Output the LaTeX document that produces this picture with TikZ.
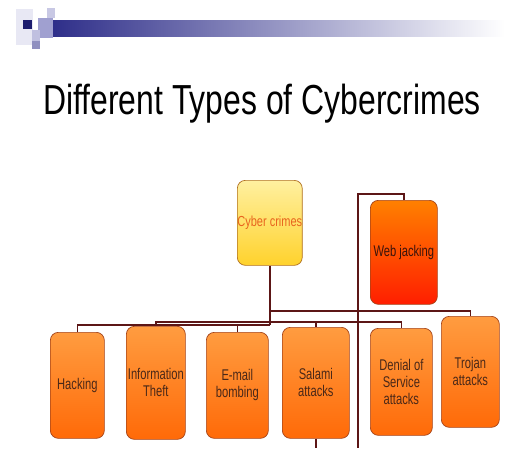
\documentclass[tikz,border=0pt]{standalone}
\usepackage{fontspec}
\setmainfont{Liberation Sans}
\newfontfamily\titlefont{Liberation Sans}[FakeStretch=0.76]
\newfontfamily\boxfont{Liberation Sans}[FakeStretch=0.72]
\newfontfamily\crimefont{Liberation Sans}[FakeStretch=0.76]
\usetikzlibrary{calc}

\definecolor{navy}{HTML}{1C1C6E}
\definecolor{barblue}{HTML}{2C2C88}
\definecolor{linkcol}{HTML}{5C1616}
\definecolor{boxline}{HTML}{A4441A}
\definecolor{boxtext}{HTML}{4A2818}
\definecolor{orangetop}{HTML}{FF9C40}
\definecolor{orangebot}{HTML}{FF6A08}
\definecolor{yellowtop}{HTML}{FFF0A0}
\definecolor{yellowbot}{HTML}{FFD22C}
\definecolor{redtop}{HTML}{FF8000}
\definecolor{redbot}{HTML}{FF1E00}
\definecolor{crimetext}{HTML}{E8641E}

\tikzset{
  box/.style={draw=boxline, line width=0.7pt, rounded corners=8pt,
    anchor=north west, inner sep=1pt, align=center,
    font=\boxfont\fontsize{15.5}{17}\selectfont, text=boxtext,
    top color=orangetop, bottom color=orangebot},
  link/.style={draw=linkcol, line width=1.4pt}
}

\begin{document}
\begin{tikzpicture}[x=1pt,y=-1pt]
\useasboundingbox[fill=white] (0,0) rectangle (505,448);

% header bar and tiles
\shade[left color=barblue, right color=white, shading angle=90] (47,20) rectangle (505,36);
\fill[color={rgb,255:red,232;green,232;blue,244}] (16,9) rectangle (33,45);
\fill[navy] (23,20) rectangle (32,29);
\fill[color={rgb,255:red,200;green,200;blue,228}] (47,8) rectangle (55,18);
\fill[color={rgb,255:red,160;green,160;blue,208}] (38,18) rectangle (53,38);
\fill[color={rgb,255:red,192;green,192;blue,224}] (32,30) rectangle (40,41);
\fill[color={rgb,255:red,144;green,144;blue,192}] (32,41) rectangle (40,49);

% title
\node[anchor=base, font=\titlefont\fontsize{42}{42}\selectfont] (title) at (262,114) {Different Types of Cybercrimes};

% top-level boxes
\node[box, minimum width=62pt, minimum height=85pt, top color=yellowtop, bottom color=yellowbot,
      draw={rgb,255:red,176;green,112;blue,32}, text=crimetext, inner sep=0pt,
      font=\crimefont\fontsize{14.5}{16}\selectfont] (cyber) at (237,180) {Cyber crimes};
\node[box, minimum width=67pt, minimum height=104pt, top color=redtop, bottom color=redbot,
      text={rgb,255:red,58;green,20;blue,12}] (webjack) at (370,200) {Web jacking};

% second-level boxes
\node[box, minimum width=54pt, minimum height=106pt] (hack)   at (50,332)  {Hacking};
\node[box, minimum width=59pt, minimum height=113pt] (info)   at (126,326) {Information\\Theft};
\node[box, minimum width=62pt, minimum height=106pt] (email)  at (206,332) {E-mail\\bombing};
\node[box, minimum width=67pt, minimum height=111pt] (salami) at (282,327) {Salami\\attacks};
\node[box, minimum width=62pt, minimum height=107pt] (denial) at (370,328) {Denial of\\Service\\attacks};
\node[box, minimum width=58pt, minimum height=111pt] (trojan) at (441,316) {Trojan\\attacks};

% bus levels
\coordinate (busA) at (0,311);
\coordinate (busB) at (0,322);
\coordinate (busC) at (0,325);
\coordinate (wjtop) at (358,194);
\coordinate (wjend) at (358,448);

% connectors
\draw[link] (cyber.south) -- (cyber.south |- busC);
\draw[link] (cyber.south |- busA) -- (trojan.north |- busA) -- (trojan.north);
\draw[link] (info.north) -- (info.north |- busB) -- (denial.north |- busB) -- (denial.north);
\draw[link] (salami.north |- busB) -- (salami.north);
\draw[link] (hack.north) -- (hack.north |- busC) -- (cyber.south |- busC);
\draw[link] (email.north |- busC) -- (email.north);
\draw[link] (webjack.north) -- (webjack.north |- wjtop) -- (wjtop) -- (wjend);
\draw[link] (salami.south) -- (salami.south |- wjend);
\end{tikzpicture}
\end{document}
